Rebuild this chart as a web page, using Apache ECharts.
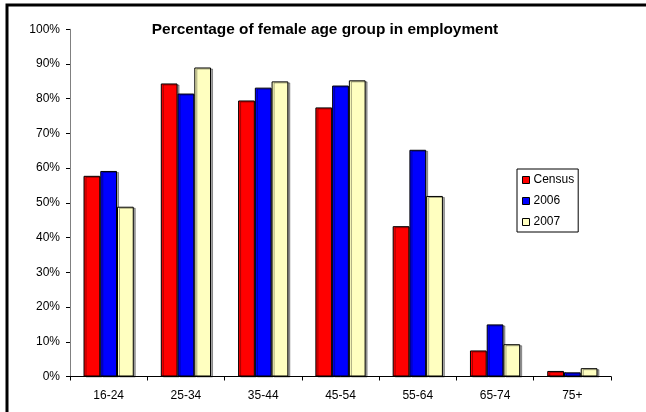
<!DOCTYPE html>
<html><head><meta charset="utf-8">
<script src="https://cdn.jsdelivr.net/npm/echarts@6/dist/echarts.min.js"></script>
<style>html,body{margin:0;padding:0;background:#fff}#c{width:646px;height:412px}</style>
</head><body><div id="c"></div>
<script>
var categories = ['16-24','25-34','35-44','45-54','55-64','65-74','75+'];
var census = [57.8, 84.4, 79.5, 77.5, 43.3, 7.5, 1.6];
var y2006 = [59.2, 81.5, 83.2, 83.8, 65.3, 15.0, 1.2];
var y2007 = [48.9, 89.0, 85.0, 85.3, 52.0, 9.3, 2.4];
var seriesNames = ['Census','2006','2007'];
var colors = ['#ff0000','#0000ff','#ffffc0'];
var title = 'Percentage of female age group in employment';

var font = '"Liberation Sans", Arial, sans-serif';
var chart = echarts.init(document.getElementById('c'));
var data = [census, y2006, y2007];
chart.setOption({
  animation: false,
  textStyle: {fontFamily: font},
  title: {text: title, left: 320, top: 17, textAlign: 'center',
    textStyle: {fontFamily: font, fontSize: 15.4, fontWeight: 'bold', color: '#000'}},
  graphic: [{type: 'rect', shape: {x: 7, y: 5, width: 700, height: 500},
    style: {fill: 'none', stroke: '#000', lineWidth: 3}, z: 100}],
  legend: {
    orient: 'vertical', left: 517, top: 169, width: 61,
    padding: [4, 4, 3, 5], itemGap: 7, itemWidth: 7, itemHeight: 7,
    borderColor: '#000', borderWidth: 1, backgroundColor: '#fff',
    icon: 'rect',
    itemStyle: {borderColor: '#000', borderWidth: 1},
    textStyle: {fontFamily: font, fontSize: 12, color: '#000', padding: [0,0,0,-1], lineHeight: 14},
    data: seriesNames
  },
  grid: {left: 70, right: 35, top: 29.3, bottom: 35.5, containLabel: false},
  xAxis: {type: 'category', data: categories,
    axisLine: {lineStyle: {color: '#000', width: 1}},
    axisTick: {show: true, length: 4, lineStyle: {color: '#000'}},
    axisLabel: {fontFamily: font, fontSize: 12, color: '#000', margin: 13}},
  yAxis: {type: 'value', min: 0, max: 100, interval: 10,
    axisLine: {show: true, lineStyle: {color: '#808080', width: 1}},
    axisTick: {show: true, length: 4, lineStyle: {color: '#000'}},
    splitLine: {show: false},
    axisLabel: {fontFamily: font, fontSize: 12, color: '#000', margin: 10,
      formatter: function(v){return v + '%';}}},
  series: seriesNames.map(function(n, i){
    return {name: n, type: 'bar', data: data[i], barGap: '0%', barCategoryGap: '35%',
      itemStyle: {color: colors[i], borderColor: '#000', borderWidth: 1,
        shadowColor: 'rgba(0,0,0,0.35)', shadowOffsetX: 2, shadowOffsetY: 1, shadowBlur: 0}};
  })
});
</script></body></html>
